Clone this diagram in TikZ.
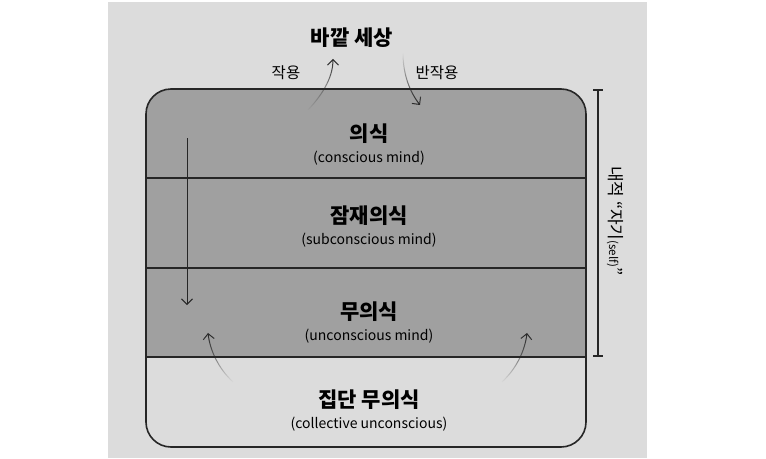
\documentclass[tikz,border=0pt]{standalone}
\usepackage{fontspec}
\setmainfont{Noto Sans CJK KR}
\usetikzlibrary{arrows.meta,fadings}
\definecolor{panel}{RGB}{220,220,220}
\definecolor{layer}{RGB}{160,160,160}
\begin{document}
\begin{tikzpicture}[x=1pt,y=-1pt,
  mainlbl/.style={inner sep=0pt,font=\fontsize{21}{24}\selectfont\bfseries},
  sublbl/.style={inner sep=0pt,font=\fontsize{14}{16}\selectfont},
  sidelbl/.style={inner sep=0pt,font=\fontsize{15.5}{18}\selectfont},
  vertlbl/.style={inner sep=0pt,font=\fontsize{17}{20}\selectfont},
  flow/.style={-{Straight Barb[length=5.5pt,width=11pt]},line width=1pt,black!85},
  sep/.style={line width=1.2pt,black!85}]
\useasboundingbox (0,0) rectangle (766,458);
\fill[white] (0,0) rectangle (766,458);
\fill[panel] (108,2) rectangle (647,458);
\begin{scope}
  \clip[rounded corners=25pt] (146,89) rectangle (586,447);
  \fill[layer] (146,89) rectangle (586,357);
  \fill[panel] (146,357) rectangle (586,447);
\end{scope}
\draw[line width=1.6pt,black!85,rounded corners=25pt] (146,89) rectangle (586,447);
\draw[sep] (146,178) -- (586,178);
\draw[sep] (146,268) -- (586,268);
\draw[sep] (146,357) -- (586,357);
% labels
\node[mainlbl] (world) at (352,38) {바깥 세상};
\node[sidelbl] (act) at (286,73) {작용};
\node[sidelbl] (react) at (437,73) {반작용};
\node[mainlbl] (c1) at (369,134) {의식};
\node[sublbl] (c1e) at (369,158) {(conscious mind)};
\node[mainlbl] (c2) at (369,216) {잠재의식};
\node[sublbl] (c2e) at (369,240) {(subconscious mind)};
\node[mainlbl] (c3) at (369,312) {무의식};
\node[sublbl] (c3e) at (369,336) {(unconscious mind)};
\node[mainlbl] (c4) at (369,400) {집단 무의식};
\node[sublbl] (c4e) at (369,424) {(collective unconscious)};
\node[vertlbl,rotate=-90] (self) at (615,221) {내적 “자기{\fontsize{11.5}{13}\selectfont(self)}”};
% arrows
\coordinate (a1s) at (308,110);
\coordinate (a1e) at (333,59);
\coordinate (a2s) at (403,53);
\coordinate (a2e) at (420,105);
\coordinate (a3s) at (187,138);
\coordinate (a3e) at (187,305);
\coordinate (a4s) at (233,382);
\coordinate (a4e) at (208,333);
\coordinate (a5s) at (502,382);
\coordinate (a5e) at (527,333);
\draw[flow,path fading=south] (a1s) .. controls (325,92) and (333,75) .. (a1e);
\draw[flow,path fading=north] (a2s) .. controls (403,75) and (410,92) .. (a2e);
\draw[flow] (a3s) -- (a3e);
\draw[flow,path fading=south] (a4s) .. controls (218,368) and (210,350) .. (a4e);
\draw[flow,path fading=south] (a5s) .. controls (517,368) and (525,350) .. (a5e);
% bracket
\coordinate (bt) at (598,90);
\coordinate (bb) at (598,356);
\draw[line width=1.3pt,black!85] (bt) -- (bb);
\draw[line width=1.3pt,black!85] (593,90) -- (603,90);
\draw[line width=1.3pt,black!85] (593,356) -- (603,356);
\end{tikzpicture}
\end{document}
